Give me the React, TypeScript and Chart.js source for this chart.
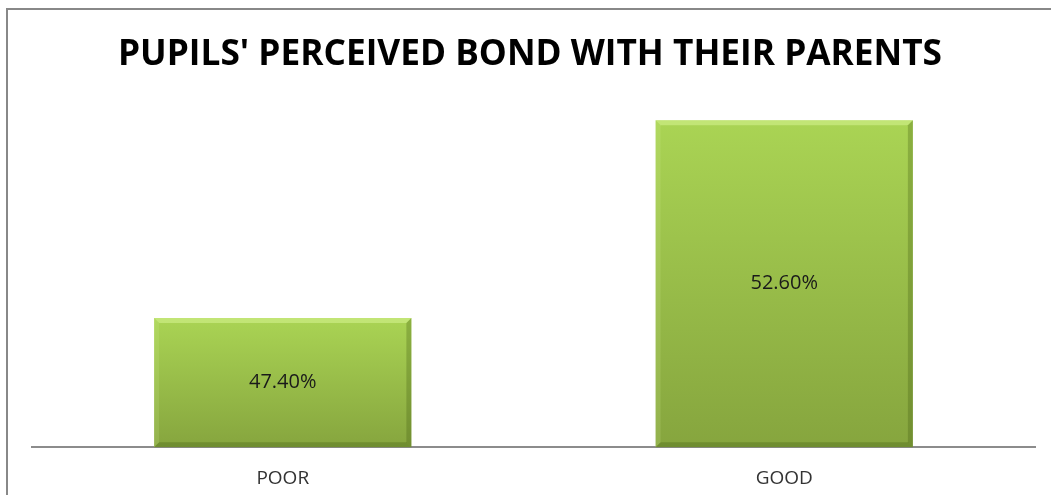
import React, { useEffect, useRef } from "react";
import { Chart, registerables } from "chart.js";

Chart.register(...registerables);

const TITLE = "PUPILS' PERCEIVED BOND WITH THEIR PARENTS";
const categories = ["POOR", "GOOD"];
const values = [47.4, 52.6];
const valueLabels = ["47.40%", "52.60%"];
const yMin = 44;
const yMax = 54;

const FONT = "'Open Sans', 'Noto Sans', sans-serif";
const TITLE_WIDTH = 824;

const titlePlugin = {
  id: "stretchedTitle",
  afterDraw(chart: any) {
    const ctx = chart.ctx;
    ctx.save();
    ctx.font = `bold 35px ${FONT}`;
    ctx.fillStyle = "#000000";
    ctx.textAlign = "center";
    ctx.textBaseline = "alphabetic";
    const w = ctx.measureText(TITLE).width;
    const sx = TITLE_WIDTH / w;
    ctx.translate(530, 65);
    ctx.scale(sx, 1);
    ctx.fillText(TITLE, 0, 0);
    ctx.restore();
  },
};

const bevelPlugin = {
  id: "bevel",
  afterDatasetsDraw(chart: any) {
    const ctx = chart.ctx;
    const meta = chart.getDatasetMeta(0);
    const b = 5;
    meta.data.forEach((bar: any) => {
      const { x, y, base, width } = bar.getProps(["x", "y", "base", "width"], true);
      const l = x - width / 2;
      const r = x + width / 2;
      const t = y;
      const bt = base;
      ctx.save();
      ctx.fillStyle = "rgba(225,250,160,0.45)";
      ctx.beginPath();
      ctx.moveTo(l, t);
      ctx.lineTo(r, t);
      ctx.lineTo(r - b, t + b);
      ctx.lineTo(l + b, t + b);
      ctx.closePath();
      ctx.fill();
      ctx.fillStyle = "rgba(210,240,150,0.18)";
      ctx.beginPath();
      ctx.moveTo(l, t);
      ctx.lineTo(l + b, t + b);
      ctx.lineTo(l + b, bt - b);
      ctx.lineTo(l, bt);
      ctx.closePath();
      ctx.fill();
      ctx.fillStyle = "rgba(60,85,15,0.28)";
      ctx.beginPath();
      ctx.moveTo(r, t);
      ctx.lineTo(r - b, t + b);
      ctx.lineTo(r - b, bt - b);
      ctx.lineTo(r, bt);
      ctx.closePath();
      ctx.fill();
      ctx.fillStyle = "rgba(60,85,15,0.3)";
      ctx.beginPath();
      ctx.moveTo(l, bt);
      ctx.lineTo(l + b, bt - b);
      ctx.lineTo(r - b, bt - b);
      ctx.lineTo(r, bt);
      ctx.closePath();
      ctx.fill();
      ctx.restore();
    });
  },
};

const labelPlugin = {
  id: "valueLabels",
  afterDatasetsDraw(chart: any) {
    const ctx = chart.ctx;
    const meta = chart.getDatasetMeta(0);
    ctx.save();
    ctx.font = `20px ${FONT}`;
    ctx.fillStyle = "#1a1a1a";
    ctx.textAlign = "center";
    ctx.textBaseline = "middle";
    meta.data.forEach((bar: any, i: number) => {
      const { x, y, base } = bar.getProps(["x", "y", "base"], true);
      ctx.fillText(valueLabels[i], x, (y + base) / 2);
    });
    ctx.restore();
  },
};

export default function App() {
  const ref = useRef<HTMLCanvasElement | null>(null);

  useEffect(() => {
    if (!ref.current) return;
    const chart = new Chart(ref.current, {
      type: "bar",
      data: {
        labels: categories,
        datasets: [
          {
            data: values,
            base: yMin,
            backgroundColor: (c: any) => {
              const area = c.chart.chartArea;
              const ys = c.chart.scales.y;
              if (!area || !ys || c.raw == null) return "#98bf48";
              const top = ys.getPixelForValue(c.raw);
              const g = c.chart.ctx.createLinearGradient(0, top, 0, area.bottom);
              g.addColorStop(0, "#aad454");
              g.addColorStop(1, "#86a53e");
              return g;
            },
            borderWidth: 0,
            barPercentage: 0.513,
            categoryPercentage: 1,
          },
        ],
      },
      options: {
        animation: false,
        responsive: false,
        maintainAspectRatio: false,
        layout: { padding: { left: 32, right: 16, top: 67, bottom: -15 } },
        plugins: {
          legend: { display: false },
          tooltip: { enabled: false },
          title: { display: false },
        },
        scales: {
          x: {
            grid: { display: false, drawTicks: false },
            border: { display: true, color: "#8c8c8c", width: 2 },
            ticks: {
              color: "#333333",
              font: { family: FONT, size: 19 },
              padding: 20,
            },
          },
          y: {
            display: false,
            min: yMin,
            max: yMax,
          },
        },
      },
      plugins: [bevelPlugin, labelPlugin, titlePlugin],
    });
    return () => chart.destroy();
  }, []);

  return (
    <div style={{ position: "fixed", left: 0, top: 0, width: 1051, height: 495, background: "#fff", overflow: "hidden" }}>
      <canvas ref={ref} width={1051} height={495} style={{ position: "absolute", left: 0, top: 0 }} />
      <div
        style={{
          position: "absolute",
          left: 6,
          top: 8,
          width: 1100,
          height: 600,
          border: "2px solid #888888",
          boxSizing: "border-box",
          pointerEvents: "none",
        }}
      />
    </div>
  );
}
